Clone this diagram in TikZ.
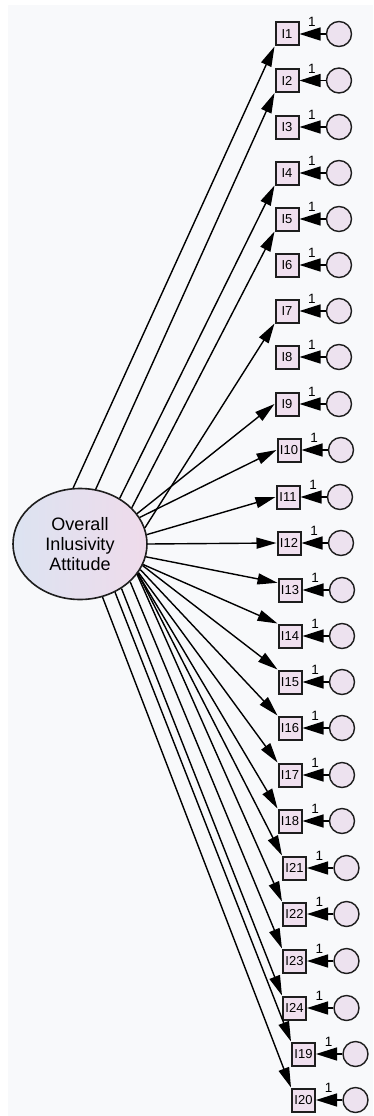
\documentclass[tikz,border=0pt]{standalone}
\usepackage{fontspec}
\setmainfont{Liberation Sans}
\usetikzlibrary{arrows.meta,shapes.geometric}
\definecolor{bgc}{HTML}{F8F9FB}
\definecolor{boxc}{HTML}{F0E0EF}
\definecolor{cirl}{HTML}{EDE2EF}
\definecolor{ellL}{HTML}{DCE3F1}
\definecolor{ellR}{HTML}{EFDBEB}
\definecolor{edgec}{HTML}{1E1E1E}
\tikzset{
  obs/.style={draw=edgec, line width=2pt, fill=boxc, minimum width=23pt, minimum height=23pt, inner sep=0pt, font=\fontsize{13}{13}\selectfont},
  err/.style={circle, draw=edgec, line width=1.4pt, fill=cirl, minimum size=25pt, inner sep=0pt},
  lat/.style={ellipse, draw=edgec, line width=1.6pt, left color=ellL, right color=ellR, minimum width=134pt, minimum height=111pt, inner sep=0pt, align=center, font=\fontsize{18}{20}\selectfont},
  load/.style={line width=1.4pt, -{Triangle[length=20pt,width=11pt]}},
  eload/.style={line width=1.4pt, -{Triangle[length=21pt,width=13pt]}},
  one/.style={font=\fontsize{13.5}{13.5}\selectfont, inner sep=0pt}
}
\begin{document}
\begin{tikzpicture}[x=1pt,y=-1pt]
\useasboundingbox (0,0) rectangle (373,1116);
\fill[white] (0,0) rectangle (373,1116);
\fill[bgc] (8,5) rectangle (373,1116);
\node[lat] (F) at (80,544) {Overall\\Inlusivity\\Attitude};
% observed boxes
\foreach \n/\x/\y in {1/287/34, 2/287/80.5, 3/287/127, 4/287/173, 5/287/219, 6/287/265, 7/287/311, 8/287/357, 9/287/404, 10/289/450, 11/288/497, 12/289/543, 13/290/590, 14/290/636, 15/290/682, 16/290/728, 17/290/775, 18/290/821, 21/294.5/868, 22/294.5/914, 23/294.5/961, 24/294.5/1008, 19/303.5/1054, 20/303.5/1100}{
  \node[obs] (I\n) at (\x,\y) {I\n};
  \node[err] (e\n) at (\x+52,\y) {};
  \node[one] (o\n) at (\x+25,\y-12) {1};
  \draw[eload] (e\n) -- (I\n);
}
% loadings
\foreach \n/\a/\b in {1/97/south west, 2/74/south west, 4/49/south west, 5/35/south west, 7/14/south west, 9/28/180, 10/24/180, 11/8/180, 12/0/180, 13/-11/150, 14/-18/north west, 15/-19/north west, 16/-23.6/north west, 17/-26.6/north west, 18/-27.4/north west, 21/-27/north west, 22/-28/north west, 23/-37.5/north west, 24/-47/north west, 19/-54/north west, 20/-67.5/north west}{
  \draw[load] (F.\a) -- (I\n.\b);
}
\end{tikzpicture}
\end{document}
